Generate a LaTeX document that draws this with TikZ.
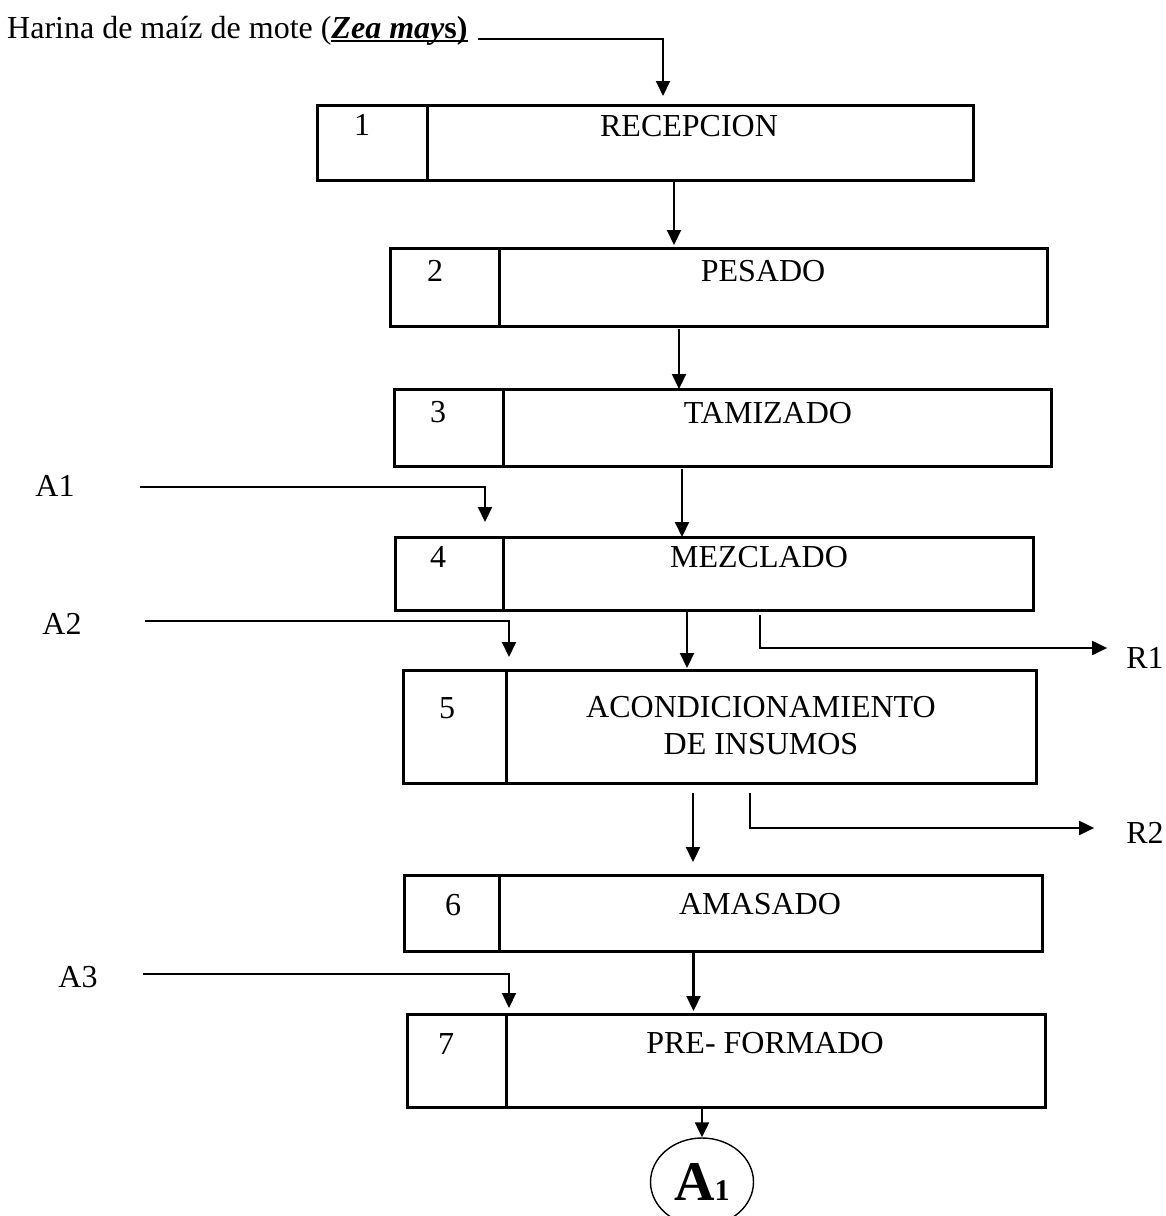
\documentclass[tikz,border=0pt]{standalone}
\usepackage{fontspec}
\setmainfont{Liberation Serif}
\usetikzlibrary{arrows.meta,shapes.geometric}
% thick underline as in the original
\newcommand\thickul[1]{\setbox0\hbox{#1}\rlap{\rule[-4pt]{\wd0}{2pt}}\box0}

\begin{document}
\begin{tikzpicture}[x=1pt,y=-1pt,
    cell/.style={draw,line width=3pt,inner sep=0pt,outer sep=0pt,anchor=north west},
    lbl/.style={inner sep=0pt,font=\fontsize{32}{37}\selectfont},
    txt/.style={lbl,align=center},
    flow/.style={line width=2.2pt,-{Triangle[length=15pt,width=14pt]}},
    feed/.style={line width=2pt,-{Triangle[length=15pt,width=14pt]}}]
% page = picture size
\useasboundingbox (0,0) rectangle (1166,1216);
\clip (0,0) rectangle (1166,1216);
    % the seven steps: number cell on the left, name cell on the right
    \foreach \stepno/\xl/\xd/\xr/\yt/\yb in {1/317/427/973/105/180,
        2/390/499/1047/248/326, 3/394/503/1051/389/466, 4/395/503/1033/537/610,
        5/403/506/1036/670/783, 6/404/499/1042/875/951, 7/407/506/1045/1014/1107} {
    \pgfmathsetmacro\numw{\xd-\xl}
    \pgfmathsetmacro\stepw{\xr-\xd}
    \pgfmathsetmacro\cellh{\yb-\yt}
    \node[cell,minimum width=\numw pt,minimum height=\cellh pt] (num\stepno) at (\xl,\yt) {};
    \node[cell,minimum width=\stepw pt,minimum height=\cellh pt] (step\stepno) at (\xd,\yt) {};
    }
    % texts of the steps (they sit near the top of each box)
    \foreach \stepno/\xn/\yn/\xt/\ytx/\stepname in {1/362/125/689/126/RECEPCION,
        2/435/271/763/271/PESADO, 3/438/412/768/413/TAMIZADO, 4/438/557/759/557/MEZCLADO,
        5/447/708/761/726/{ACONDICIONAMIENTO\\DE INSUMOS}, 6/453/905/760/904/AMASADO,
        7/446/1044/765/1043/PRE- FORMADO} {
    \node[txt] (numtxt\stepno) at (\xn,\yn) {\stepno};
    \node[txt] (name\stepno) at (\xt,\ytx) {\stepname};
    }
    % raw material
    \node[lbl,anchor=base west] (title) at (7,38)
        {Harina de maíz de mote (\thickul{\textbf{\textit{Zea may}s)}}};
    \draw[feed,shorten >=9pt] ([xshift=10pt,yshift=-1pt]title.base east) -| ([xshift=-37pt]step1.north);
    % main line
    \draw[flow,shorten >=3pt] ([xshift=-26pt]step1.south) -- ([xshift=-26pt]step1.south |- step2.north);
    \draw[flow,shorten <=3pt] ([xshift=-94pt]step2.south) -- ([xshift=-94pt]step2.south |- step3.north);
    \draw[flow,shorten <=3pt] ([xshift=-95pt]step3.south) -- ([xshift=-95pt]step3.south |- step4.north);
    \draw[flow,shorten >=2pt] ([xshift=-81pt]step4.south) -- ([xshift=-81pt]step4.south |- step5.north);
    \draw[flow,shorten <=10pt,shorten >=13pt] ([xshift=-78pt]step5.south) -- ([xshift=-78pt]step5.south |- step6.north);
    \draw[flow,shorten >=3pt] ([xshift=-77pt]step6.south) -- ([xshift=-77pt]step6.south |- step7.north);
    % connector to the next sheet
    \node[draw,ellipse,line width=1.4pt,minimum width=103pt,minimum height=88pt,inner sep=0pt] (a1) at (702,1182)
        {\fontsize{56}{56}\selectfont\textbf{A{\fontsize{30}{30}\selectfont 1}}};
    \draw[flow] (step7.south -| a1.north) -- (a1.north);
    % additions
    \node[lbl] (inA1) at (55,486) {A1};
    \node[lbl] (inA2) at (62,624) {A2};
    \node[lbl] (inA3) at (78,977) {A3};
    \draw[feed,shorten >=15pt] ([xshift=65pt,yshift=-1pt]inA1.east) -| ([xshift=-18pt]num4.north east);
    \draw[feed,shorten >=13pt] ([xshift=63pt,yshift=3pt]inA2.east) -| ([xshift=3pt]num5.north east);
    \draw[feed,shorten >=6pt] ([xshift=45pt,yshift=3pt]inA3.east) -| ([xshift=3pt]num7.north east);
    % residues
    \node[lbl] (outR1) at (1145,658) {R1};
    \node[lbl] (outR2) at (1145,833) {R2};
    \draw[feed,shorten <=5pt] ([xshift=-8pt]step4.south) |- ([xshift=-19pt,yshift=10pt]outR1.west);
    \draw[feed,shorten <=10pt] ([xshift=-21pt]step5.south) |- ([xshift=-32pt,yshift=5pt]outR2.west);
\end{tikzpicture}
\end{document}
